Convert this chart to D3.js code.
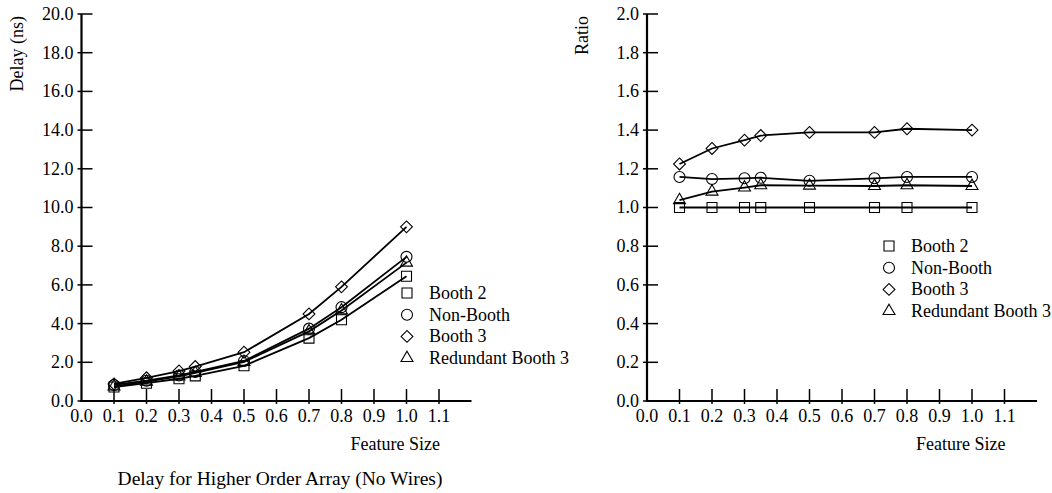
<!DOCTYPE html>
<meta charset="utf-8">
<script src="https://cdn.jsdelivr.net/npm/d3@7"></script>
<style>
body { margin: 0; background: #fff; }
text {
  font-family: "Liberation Serif", "Tinos", "Times New Roman", Times, "DejaVu Serif", "Noto Serif", serif;
  font-size: 18px;
  fill: #000;
}
.axisline { stroke: #000; stroke-width: 2.2px; }
.tick line { stroke: #000; stroke-width: 1.5px; }
path.series { fill: none; stroke: #000; stroke-width: 1.8px; }
path.marker { fill: none; stroke: #000; stroke-width: 1.1px; }
</style>
<body>
<script>

// feature sizes along x
var featureSize = [0.1, 0.2, 0.3, 0.35, 0.5, 0.7, 0.8, 1.0];

// delay (ns), left panel
var delayBooth2    = [0.72, 0.92, 1.15, 1.30, 1.82, 3.25, 4.20, 6.45];
var delayNonBooth  = [0.83, 1.05, 1.32, 1.50, 2.07, 3.74, 4.85, 7.45];
var delayBooth3    = [0.88, 1.20, 1.55, 1.78, 2.52, 4.50, 5.90, 9.00];
var delayRedundant = [0.75, 1.00, 1.27, 1.45, 2.02, 3.60, 4.68, 7.15];

// ratio to booth 2, right panel
var ratioBooth2    = [1.00, 1.00, 1.00, 1.00, 1.00, 1.00, 1.00, 1.00];
var ratioNonBooth  = [1.158, 1.147, 1.151, 1.154, 1.138, 1.151, 1.158, 1.158];
var ratioBooth3    = [1.225, 1.305, 1.348, 1.372, 1.388, 1.388, 1.407, 1.400];
var ratioRedundant = [1.038, 1.082, 1.103, 1.115, 1.113, 1.111, 1.115, 1.111];

var seriesNames = ["Booth 2", "Non-Booth", "Booth 3", "Redundant Booth 3"];
var xTicks = [0.0, 0.1, 0.2, 0.3, 0.4, 0.5, 0.6, 0.7, 0.8, 0.9, 1.0, 1.1];
var delayTicks = [0, 2, 4, 6, 8, 10, 12, 14, 16, 18, 20];
var ratioTicks = [0, 0.2, 0.4, 0.6, 0.8, 1.0, 1.2, 1.4, 1.6, 1.8, 2.0];

var width = 1052, height = 493;

var svg = d3.select("body").append("svg")
    .attr("width", width)
    .attr("height", height);

// marker shapes: square, circle, diamond, triangle
function markerPath(i) {
  if (i == 0) return d3.symbol(d3.symbolSquare, 100)();
  if (i == 1) return d3.symbol(d3.symbolCircle, 95)();
  if (i == 2) return d3.symbol(d3.symbolSquare, 70)();   // rotated below
  return d3.symbol(d3.symbolTriangle, 62)();
}
function markerRotate(i) { return i == 2 ? " rotate(45)" : ""; }

function drawPanel(o) {
  var x = d3.scaleLinear().domain([0, 1.2]).range([o.left, o.left + 390]);
  var y = d3.scaleLinear().domain([0, o.ymax]).range([401, 14]);
  var g = svg.append("g");

  // x axis
  g.append("line").attr("class", "axisline")
      .attr("x1", o.left - 1).attr("x2", x(1.2))
      .attr("y1", y(0)).attr("y2", y(0));
  var xt = g.selectAll(".xtick").data(xTicks).enter().append("g")
      .attr("class", "tick")
      .attr("transform", function(d) { return "translate(" + x(d) + ",0)"; });
  xt.filter(function(d) { return d > 0; }).append("line")
      .attr("y1", y(0) + 3).attr("y2", y(0) - 12);
  xt.append("text")
      .attr("y", 422)
      .attr("text-anchor", "middle")
      .text(function(d) { return d3.format(".1f")(d); });

  // y axis
  g.append("line").attr("class", "axisline")
      .attr("x1", x(0)).attr("x2", x(0))
      .attr("y1", y(0) + 1).attr("y2", y(o.ymax));
  var yt = g.selectAll(".ytick").data(o.yTicks).enter().append("g")
      .attr("class", "tick")
      .attr("transform", function(d) { return "translate(0," + y(d) + ")"; });
  yt.append("line")
      .attr("x1", x(0) - 4).attr("x2", x(0) + 11);
  yt.append("text")
      .attr("x", x(0) - 8)
      .attr("dy", "0.33em")
      .attr("text-anchor", "end")
      .text(function(d) { return d3.format(".1f")(d); });

  // axis titles
  g.append("text")
      .attr("transform", "translate(" + o.ylabelX + ",16) rotate(-90)")
      .attr("text-anchor", "end")
      .text(o.ylabel);
  g.append("text")
      .attr("x", x(1.1) + 1)
      .attr("y", 450)
      .attr("text-anchor", "end")
      .text("Feature Size");

  // series lines and markers
  var line = d3.line()
      .x(function(d) { return x(d[0]); })
      .y(function(d) { return y(d[1]); });

  o.series.forEach(function(vals, i) {
    var pts = featureSize.map(function(f, k) { return [f, vals[k]]; });
    g.append("path").attr("class", "series").attr("d", line(pts));
    g.selectAll(".m" + i).data(pts).enter().append("path")
        .attr("class", "marker")
        .attr("d", markerPath(i))
        .attr("transform", function(d) {
          return "translate(" + x(d[0]) + "," + y(d[1]) + ")" + markerRotate(i);
        });
  });

  // legend
  var lg = g.selectAll(".legend").data(seriesNames).enter().append("g")
      .attr("transform", function(d, i) {
        return "translate(" + o.legendX + "," + (o.legendY + i * 21.7) + ")";
      });
  lg.append("path").attr("class", "marker")
      .attr("d", function(d, i) { return markerPath(i); })
      .attr("transform", function(d, i) { return markerRotate(i) ? "rotate(45)" : null; });
  lg.append("text")
      .attr("x", 22)
      .attr("dy", "0.33em")
      .text(function(d) { return d; });
}

drawPanel({
  left: 81.5, ymax: 20, yTicks: delayTicks,
  ylabel: "Delay (ns)", ylabelX: 23,
  series: [delayBooth2, delayNonBooth, delayBooth3, delayRedundant],
  legendX: 407, legendY: 293
});

drawPanel({
  left: 647, ymax: 2, yTicks: ratioTicks,
  ylabel: "Ratio", ylabelX: 588,
  series: [ratioBooth2, ratioNonBooth, ratioBooth3, ratioRedundant],
  legendX: 889, legendY: 246
});

svg.append("text")
    .attr("x", 280)
    .attr("y", 485)
    .attr("text-anchor", "middle")
    .style("font-size", "19.5px")
    .text("Delay for Higher Order Array (No Wires)");

</script>
</body>
